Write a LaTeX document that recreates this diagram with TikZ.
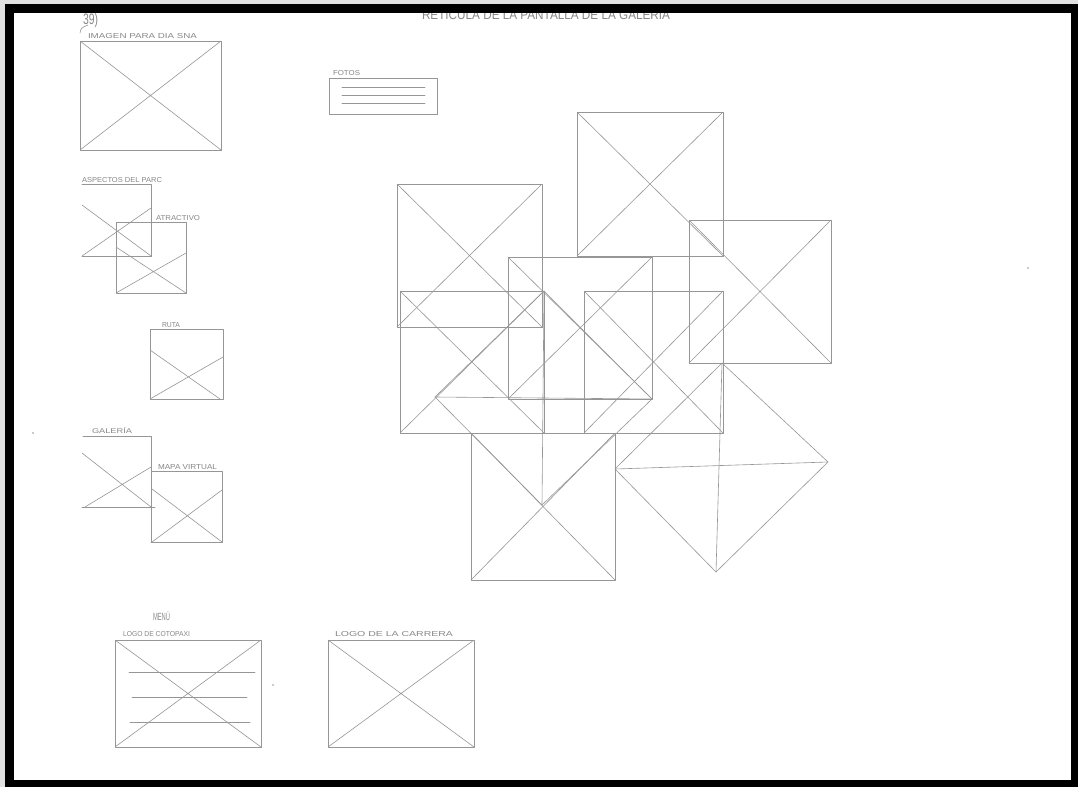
\documentclass[tikz,border=0pt]{standalone}
\usepackage{fontspec}
\setmainfont{Liberation Sans}
\usepackage{graphicx}
\definecolor{pencil}{RGB}{150,150,150}
\definecolor{pencilt}{RGB}{135,135,135}
\definecolor{edge}{RGB}{225,225,225}
\tikzset{
  pen/.style={draw=pencil,line width=0.6pt,line cap=round,line join=round},
  lbl/.style={anchor=base west,inner sep=0pt,outer sep=0pt,text=pencilt},
}
\newcommand{\xrect}[4]{\draw[pen] (#1,#2) rectangle (#3,#4); \draw[pen] (#1,#2) -- (#3,#4) (#3,#2) -- (#1,#4);}
\newcommand{\hw}[3]{\resizebox{#1pt}{#2pt}{#3}}
\begin{document}
\begin{tikzpicture}[x=1pt,y=-1pt]
\useasboundingbox (0,0) rectangle (1078,787);
\fill[white] (0,0) rectangle (1078,787);

% ---- labels ----
\node[lbl] (title) at (422,19) {\hw{248}{9}{RETICULA DE LA PANTALLA DE LA GALERIA}};
\node[lbl] (num) at (83,24) {\hw{15}{11}{39)}};
\draw[pen] (80,33) .. controls (81,28) .. (88,25);
\node[lbl] (limg) at (88,38) {\hw{109}{5}{IMAGEN PARA DIA SNA}};
\node[lbl] (lfotos) at (333,75) {\hw{27}{5}{FOTOS}};
\node[lbl] (lasp) at (82,182) {\hw{80}{5}{ASPECTOS DEL PARC}};
\node[lbl] (latr) at (156,220) {\hw{44}{5}{ATRACTIVO}};
\node[lbl] (lruta) at (162,327) {\hw{18}{5}{RUTA}};
\node[lbl] (lgal) at (92,433) {\hw{40}{6}{GALERÍA}};
\node[lbl] (lmapa) at (158,469) {\hw{59}{5}{MAPA VIRTUAL}};
\node[lbl] (lmenu) at (153,620) {\hw{17}{9}{MENÚ}};
\node[lbl] (lcot) at (123,636) {\hw{67}{5}{LOGO DE COTOPAXI}};
\node[lbl] (lcar) at (335,636) {\hw{118}{5}{LOGO DE LA CARRERA}};

% ---- left column ----
\xrect{80}{41}{221}{150}
% fotos
\draw[pen] (329,78) rectangle (437,114);
\draw[pen] (342,87) -- (425,87) (342,95) -- (425,95) (342,103) -- (425,103);
% aspectos del parc (open box)
\draw[pen] (82,184) -- (151,184) -- (151,256) -- (82,256);
\draw[pen] (82,205) -- (151,256) (82,256) -- (151,208);
% atractivo
\draw[pen] (116,222) rectangle (186,293);
\draw[pen] (116,247) -- (186,293) (116,293) -- (186,253);
% ruta
\draw[pen] (150,329) rectangle (223,399);
\draw[pen] (150,350) -- (220,399) (150,399) -- (223,357);
% galeria (open box)
\draw[pen] (83,436) -- (151,436) -- (151,542);
\draw[pen] (82,507) -- (155,507);
\draw[pen] (82,453) -- (151,507) (85,507) -- (151,467);
% mapa virtual
\draw[pen] (152,471) -- (222,471) -- (222,542) -- (151,542);
\draw[pen] (152,489) -- (222,542) (152,542) -- (222,490);
% logo cotopaxi
\xrect{115}{640}{261}{747}
\draw[pen] (129,672) -- (255,672) (132,697) -- (247,697) (130,722) -- (250,722);
% logo carrera
\xrect{328}{640}{474}{747}

% ---- central composition ----
\xrect{577}{112}{723}{256}
\xrect{689}{220}{831}{363}
\xrect{397}{184}{542}{327}
\xrect{400}{291}{544}{433}
\xrect{508}{257}{652}{399}
\xrect{584}{291}{723}{433}
\xrect{471}{433}{615}{580}
% diamond E
\draw[pen] (544,291) -- (652,399) -- (542,505) -- (435,397) -- cycle;
\draw[pen] (435,397) -- (652,399) (544,291) -- (542,505);
% diamond G
\draw[pen] (722,363) -- (828,462) -- (716,572) -- (615,469) -- cycle;
\draw[pen] (615,469) -- (828,462) (722,363) -- (716,572);

% specks
\fill[pencil] (273,685) circle (0.9);
\fill[pencil] (1028,268) circle (0.8);
\fill[pencil] (33,433) circle (0.8);

% ---- frame ----
\fill[edge] (0,0) rectangle (1078,4);
\fill[edge] (0,0) rectangle (5,787);
\fill[black] (5,4) rectangle (1078,13);
\fill[black] (5,4) rectangle (14,787);
\fill[black] (1071,4) rectangle (1078,787);
\fill[black] (5,780) rectangle (1078,787);
\end{tikzpicture}
\end{document}
